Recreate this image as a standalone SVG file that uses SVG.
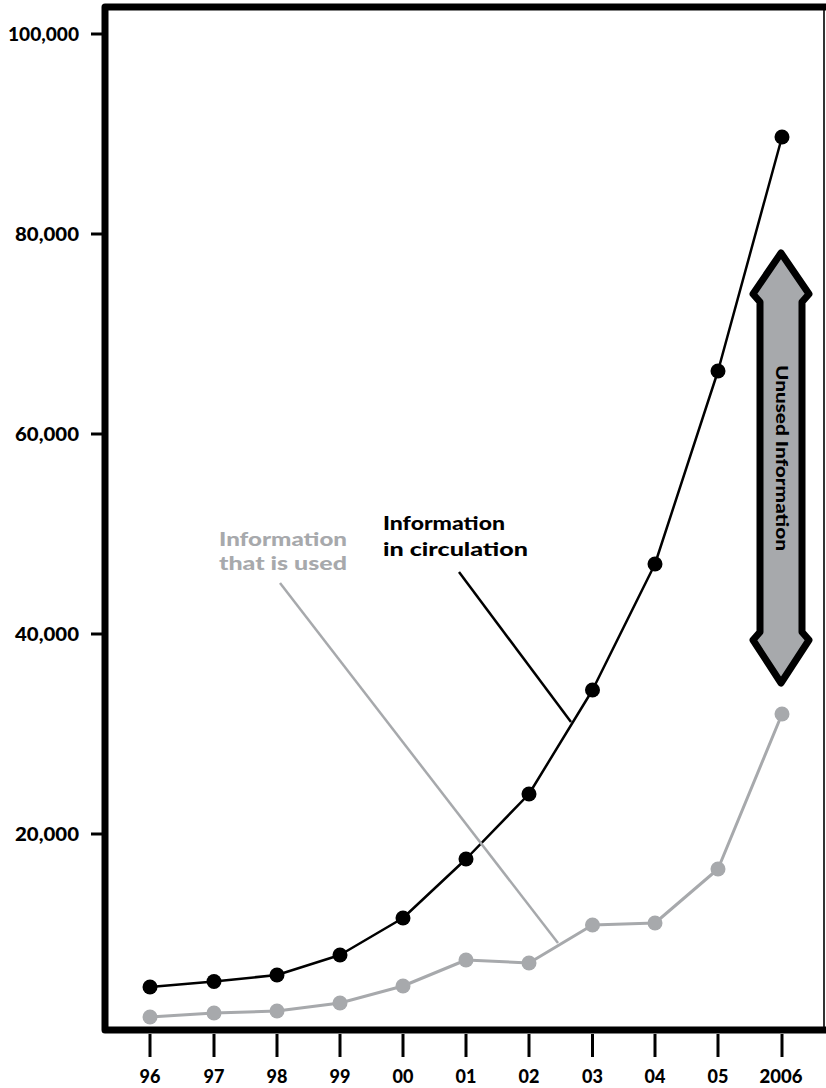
<svg xmlns="http://www.w3.org/2000/svg" width="826" height="1088" viewBox="0 0 826 1088">
  <style>
    .lbl { font-family: Lato, "DejaVu Sans", sans-serif; font-weight: 900; fill: #000; }
    .axis { font-size: 18px; }
    .note { font-size: 19px; }
    .gray { fill: #a7a9ac; }
    .tick { stroke: #000; stroke-width: 3; }
  </style>
  <defs>
    <circle id="dotB" r="7.5" fill="#000"/>
    <circle id="dotG" r="7.5" fill="#a7a9ac"/>
  </defs>
  <rect width="826" height="1088" fill="#fff"/>

  <!-- frame and axes -->
  <g id="frame">
    <line x1="824" y1="7" x2="824" y2="1030" stroke="#333" stroke-width="2"/>
    <path d="M826,7 L105,7 L105,1030 L826,1030" fill="none" stroke="#000" stroke-width="7" stroke-linejoin="round"/>
  </g>

  <g id="y-axis">
    <line class="tick" x1="91" y1="34" x2="103" y2="34"/>
    <line class="tick" x1="91" y1="234" x2="103" y2="234"/>
    <line class="tick" x1="91" y1="434" x2="103" y2="434"/>
    <line class="tick" x1="91" y1="634" x2="103" y2="634"/>
    <line class="tick" x1="91" y1="834" x2="103" y2="834"/>
    <text class="lbl axis" x="8" y="40.5" textLength="71" lengthAdjust="spacingAndGlyphs">100,000</text>
    <text class="lbl axis" x="15" y="240.5" textLength="64" lengthAdjust="spacingAndGlyphs">80,000</text>
    <text class="lbl axis" x="15" y="440.5" textLength="64" lengthAdjust="spacingAndGlyphs">60,000</text>
    <text class="lbl axis" x="15" y="640.5" textLength="64" lengthAdjust="spacingAndGlyphs">40,000</text>
    <text class="lbl axis" x="15" y="840.5" textLength="64" lengthAdjust="spacingAndGlyphs">20,000</text>
  </g>

  <g id="x-axis">
    <g class="tick">
      <line x1="150" y1="1034" x2="150" y2="1057"/>
      <line x1="214" y1="1034" x2="214" y2="1057"/>
      <line x1="277" y1="1034" x2="277" y2="1057"/>
      <line x1="340" y1="1034" x2="340" y2="1057"/>
      <line x1="403" y1="1034" x2="403" y2="1057"/>
      <line x1="466" y1="1034" x2="466" y2="1057"/>
      <line x1="529" y1="1034" x2="529" y2="1057"/>
      <line x1="592.5" y1="1034" x2="592.5" y2="1057"/>
      <line x1="655" y1="1034" x2="655" y2="1057"/>
      <line x1="718" y1="1034" x2="718" y2="1057"/>
      <line x1="782" y1="1034" x2="782" y2="1057"/>
    </g>
    <g text-anchor="middle">
      <text class="lbl axis" x="150" y="1083">96</text>
      <text class="lbl axis" x="214" y="1083">97</text>
      <text class="lbl axis" x="277" y="1083">98</text>
      <text class="lbl axis" x="340" y="1083">99</text>
      <text class="lbl axis" x="403" y="1083">00</text>
      <text class="lbl axis" x="466" y="1083">01</text>
      <text class="lbl axis" x="529" y="1083">02</text>
      <text class="lbl axis" x="592.5" y="1083">03</text>
      <text class="lbl axis" x="655" y="1083">04</text>
      <text class="lbl axis" x="718" y="1083">05</text>
      <text class="lbl axis" x="781" y="1083" textLength="43" lengthAdjust="spacingAndGlyphs">2006</text>
    </g>
  </g>

  <!-- connectors: data series and callout leaders -->
  <g id="connectors" fill="none">
    <polyline id="used-line" stroke="#a7a9ac" stroke-width="3" stroke-linejoin="round"
      points="150,1017 214,1013 277,1011 340,1003 403,986 466,960 529,963 592.5,925 655,923 718,869 782,714"/>
    <polyline id="circulation-line" stroke="#000" stroke-width="2.5" stroke-linejoin="round"
      points="150,987 214,981.5 277,975 340,955 403,918 466,859 529,794 592.5,690 655,564 718,371 782,137"/>
    <line id="used-leader" x1="280" y1="583" x2="558" y2="943" stroke="#a7a9ac" stroke-width="2.5"/>
    <line id="circulation-leader" x1="459" y1="572" x2="571" y2="722" stroke="#000" stroke-width="2.5"/>
  </g>

  <g id="used-points">
    <use href="#dotG" x="150" y="1017"/>
    <use href="#dotG" x="214" y="1013"/>
    <use href="#dotG" x="277" y="1011"/>
    <use href="#dotG" x="340" y="1003"/>
    <use href="#dotG" x="403" y="986"/>
    <use href="#dotG" x="466" y="960"/>
    <use href="#dotG" x="529" y="963"/>
    <use href="#dotG" x="592.5" y="925"/>
    <use href="#dotG" x="655" y="923"/>
    <use href="#dotG" x="718" y="869"/>
    <use href="#dotG" x="782" y="714"/>
  </g>

  <g id="circulation-points">
    <use href="#dotB" x="150" y="987"/>
    <use href="#dotB" x="214" y="981.5"/>
    <use href="#dotB" x="277" y="975"/>
    <use href="#dotB" x="340" y="955"/>
    <use href="#dotB" x="403" y="918"/>
    <use href="#dotB" x="466" y="859"/>
    <use href="#dotB" x="529" y="794"/>
    <use href="#dotB" x="592.5" y="690"/>
    <use href="#dotB" x="655" y="564"/>
    <use href="#dotB" x="718" y="371"/>
    <use href="#dotB" x="782" y="137"/>
  </g>

  <g id="label-used">
    <text class="lbl note gray" x="219" y="546" textLength="128" lengthAdjust="spacingAndGlyphs">Information</text>
    <text class="lbl note gray" x="219" y="570" textLength="128" lengthAdjust="spacingAndGlyphs">that is used</text>
  </g>

  <g id="label-circulation">
    <text class="lbl note" x="383" y="530" textLength="122" lengthAdjust="spacingAndGlyphs">Information</text>
    <text class="lbl note" x="383" y="556" textLength="145" lengthAdjust="spacingAndGlyphs">in circulation</text>
  </g>

  <g id="unused-arrow">
    <path d="M781,253 L809,294 L802,302 L802,632 L809,640 L781,683 L753,640 L760,632 L760,302 L753,294 Z"
      fill="#a7a9ac" stroke="#000" stroke-width="7" stroke-linejoin="round"/>
    <text class="lbl" font-size="16" text-anchor="middle" transform="translate(776,458) rotate(90)" textLength="186" lengthAdjust="spacingAndGlyphs">Unused Information</text>
  </g>
</svg>
